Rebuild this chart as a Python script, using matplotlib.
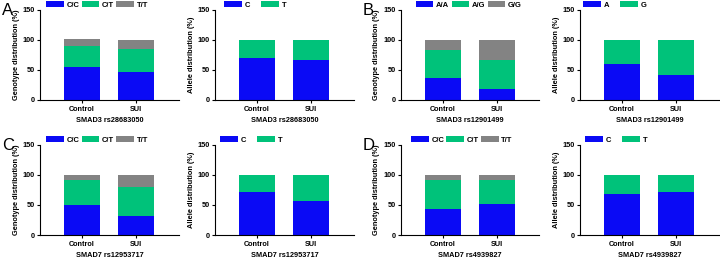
import matplotlib.pyplot as plt

plt.rcParams['font.family'] = ['Liberation Sans', 'DejaVu Sans']

groups = ['Control', 'SUI']
blue = '#0a0af5'
green = '#00c27a'
gray = '#838383'

# values, stacked from the bottom up
geno_A_labels = ['C/C', 'C/T', 'T/T']
geno_A = [[55, 47], [35, 38], [11, 15]]
allele_A_labels = ['C', 'T']
allele_A = [[70, 66], [30, 34]]

geno_B_labels = ['A/A', 'A/G', 'G/G']
geno_B = [[36, 18], [48, 49], [16, 33]]
allele_B_labels = ['A', 'G']
allele_B = [[60, 42], [40, 58]]

geno_C_labels = ['C/C', 'C/T', 'T/T']
geno_C = [[50, 32], [42, 48], [8, 20]]
allele_C_labels = ['C', 'T']
allele_C = [[71, 57], [29, 43]]

geno_D_labels = ['C/C', 'C/T', 'T/T']
geno_D = [[44, 52], [48, 40], [8, 8]]
allele_D_labels = ['C', 'T']
allele_D = [[68, 72], [32, 28]]

snps = ['SMAD3 rs28683050', 'SMAD3 rs12901499', 'SMAD7 rs12953717', 'SMAD7 rs4939827']

fig = plt.figure(figsize=(7.2, 2.61), dpi=100)


def stacked(rect, labels, vals, ylabel, xlabel, leg_x, colsp):
    ax = fig.add_axes(rect)
    colors = [blue, green, gray]
    bottom = [0, 0]
    x = range(len(groups))
    for lab, v, c in zip(labels, vals, colors):
        ax.bar(x, v, width=0.66, bottom=bottom, color=c, label=lab)
        bottom = [b + vv for b, vv in zip(bottom, v)]
    ax.set_xlim(-0.77, 1.78)
    ax.set_ylim(0, 150)
    ax.set_yticks([0, 50, 100, 150])
    ax.set_xticks(list(x))
    ax.set_xticklabels(groups)
    for s in ['top', 'right']:
        ax.spines[s].set_visible(False)
    for s in ['left', 'bottom']:
        ax.spines[s].set_linewidth(0.8)
    ax.tick_params(length=2.5, width=0.8, pad=1.5)
    for t in ax.get_yticklabels():
        t.set_fontweight('bold')
        t.set_fontsize(5.3)
    for t in ax.get_xticklabels():
        t.set_fontweight('bold')
        t.set_fontsize(5.2)
    ax.set_ylabel(ylabel, fontsize=5.3, fontweight='bold', labelpad=2)
    ax.set_xlabel(xlabel, fontsize=5.3, fontweight='bold', labelpad=3.5)
    ax.legend(loc='center', bbox_to_anchor=(leg_x, 1.055), ncol=len(labels),
              frameon=False, prop={'weight': 'bold', 'size': 5.5},
              handlelength=2.3, handleheight=0.8, columnspacing=colsp,
              handletextpad=0.35, borderpad=0, borderaxespad=0)
    return ax


panels = [
    ('A', geno_A_labels, geno_A, allele_A_labels, allele_A),
    ('B', geno_B_labels, geno_B, allele_B_labels, allele_B),
    ('C', geno_C_labels, geno_C, allele_C_labels, allele_C),
    ('D', geno_D_labels, geno_D, allele_D_labels, allele_D),
]
geno_leg_x = [0.41, 0.49, 0.41, 0.44]
allele_leg_x = [0.29, 0.25, 0.26, 0.26]

lefts = [(0.056, 0.299), (0.557, 0.806)]
bottoms = [0.617, 0.0996]
w, h = 0.192, 0.345

for i, (letter, gl, gv, al, av) in enumerate(panels):
    row, col = i // 2, i % 2
    gx, axx = lefts[col]
    y0 = bottoms[row]
    stacked([gx, y0, w, h], gl, gv, 'Genotype distribution (%)', snps[i],
            geno_leg_x[i], 0.3)
    stacked([axx, y0, w, h], al, av, 'Allele distribution (%)', snps[i],
            allele_leg_x[i], 1.5)
    fig.text(gx - 0.053, y0 + h + 0.028, letter, fontsize=12, va='top', ha='left')

fig.savefig('out.png', dpi=100)
